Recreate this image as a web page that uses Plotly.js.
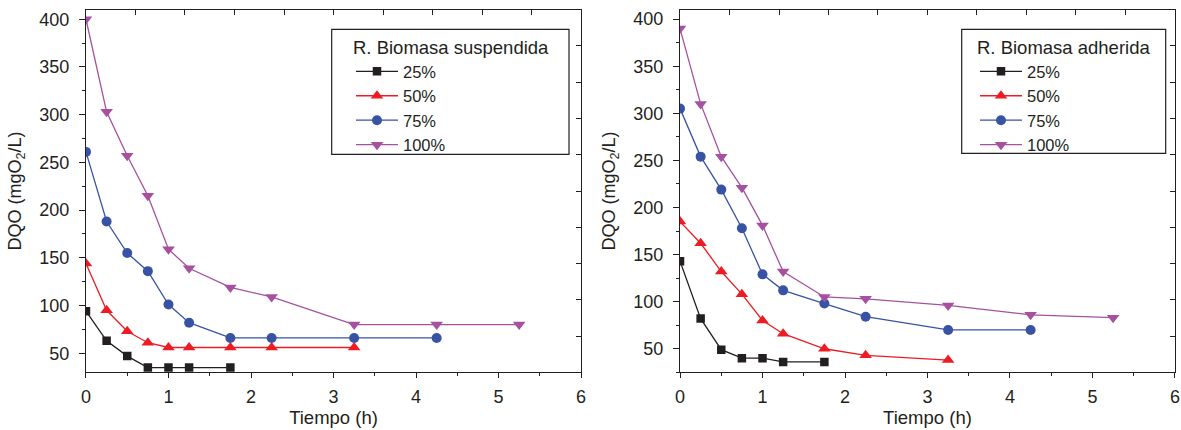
<!DOCTYPE html>
<html>
<head>
<meta charset="utf-8">
<script src="https://cdn.plot.ly/plotly-3.0.1.min.js"></script>
<style>
  html, body { margin: 0; padding: 0; background: #ffffff; }
  #chart { width: 1181px; height: 430px; }
</style>
</head>
<body>
<div id="chart"></div>
<script>
// ---- data ----
const tiempo = [0, 0.25, 0.5, 0.75, 1, 1.25, 1.75, 2.25, 3.25, 4.25, 5.25];
const seriesNames = ['25%', '50%', '75%', '100%'];

// R. Biomasa suspendida (left panel)
const susp25  = [94, 63, 47, 35, 35, 35, 35];
const susp50  = [144, 95, 73, 61, 56, 56, 56, 56, 56];
const susp75  = [261, 188, 155, 136, 101, 82, 66, 66, 66, 66];
const susp100 = [400, 303, 257, 215, 159, 139, 119, 109, 80, 80, 80];

// R. Biomasa adherida (right panel)
const adh25  = [143, 82, 49, 40, 40, 36, 36];
const adh50  = [185, 162, 132, 108, 80, 66, 50, 43, 38];
const adh75  = [305, 254, 219, 178, 129, 112, 98, 84, 70, 70];
const adh100 = [390, 310, 254, 221, 181, 132, 105, 103, 96, 86, 83];

const legendTitles = ['R. Biomasa suspendida', 'R. Biomasa adherida'];
const xTitle = 'Tiempo (h)';
const yTitle = 'DQO (mgO<sub>2</sub>/L)';

// ---- styles ----
const colors  = ['#231f20', '#ed1c24', '#3953a4', '#a6509f'];
const symbols = ['square', 'triangle-up', 'circle', 'triangle-down'];
const sizes   = [8.5, 11, 10, 11];
const FONT = 'Liberation Sans, Arial, Helvetica, sans-serif';
const INK = '#231f20';
const W = 1181, H = 430;

function mk(vals, i, xa, ya, leg) {
  return {
    type: 'scatter', mode: 'lines+markers',
    x: tiempo.slice(0, vals.length), y: vals,
    name: seriesNames[i], xaxis: xa, yaxis: ya, legend: leg,
    line: { color: colors[i], width: 1.3 },
    marker: { color: colors[i], symbol: symbols[i], size: sizes[i], line: { width: 0 } }
  };
}

const traces = [
  mk(susp25, 0, 'x', 'y', 'legend'),
  mk(susp50, 1, 'x', 'y', 'legend'),
  mk(susp75, 2, 'x', 'y', 'legend'),
  mk(susp100, 3, 'x', 'y', 'legend'),
  mk(adh25, 0, 'x2', 'y2', 'legend2'),
  mk(adh50, 1, 'x2', 'y2', 'legend2'),
  mk(adh75, 2, 'x2', 'y2', 'legend2'),
  mk(adh100, 3, 'x2', 'y2', 'legend2'),
  { type: 'scatter', x: [], y: [], xaxis: 'x3', yaxis: 'y3', showlegend: false, hoverinfo: 'skip' },
  { type: 'scatter', x: [], y: [], xaxis: 'x4', yaxis: 'y4', showlegend: false, hoverinfo: 'skip' }
];

const yDom = [0.1342, 0.9774];

function mainX(domain, anchor) {
  return {
    domain: domain, anchor: anchor, range: [0, 6], dtick: 1, tick0: 0,
    ticks: 'outside', ticklen: 5, tickwidth: 1, tickcolor: INK,
    minor: { dtick: 0.5, ticks: 'outside', ticklen: 3, tickcolor: INK, showgrid: false },
    showline: true, linecolor: INK, linewidth: 1.2, showgrid: false, zeroline: false,
    tickfont: { family: FONT, size: 18, color: INK }, ticklabelstandoff: 3,
    title: { text: xTitle, font: { family: FONT, size: 18.5, color: INK }, standoff: 4 }
  };
}
function mainY(range, anchor) {
  return {
    domain: yDom, anchor: anchor, range: range, dtick: 50, tick0: 0,
    ticks: 'outside', ticklen: 6, tickwidth: 1, tickcolor: INK,
    minor: { dtick: 25, ticks: 'outside', ticklen: 3, tickcolor: INK, showgrid: false },
    showline: true, linecolor: INK, linewidth: 1.2, showgrid: false, zeroline: false,
    tickfont: { family: FONT, size: 18, color: INK }, ticklabelstandoff: 6,
    title: { text: yTitle, font: { family: FONT, size: 18, color: INK }, standoff: 12 }
  };
}
function mirrorAxis(over, anchor, side) {
  return {
    overlaying: over, anchor: anchor, side: side, range: [0, 1], dtick: 0.1, tick0: 0,
    ticks: 'inside', ticklen: 5, tickwidth: 1, tickcolor: INK,
    showticklabels: false, showline: true, linecolor: INK, linewidth: 1.2,
    showgrid: false, zeroline: false
  };
}
function legendCfg(xpx, title) {
  return {
    x: xpx / W, y: 1 - 30 / H, xanchor: 'left', yanchor: 'top',
    bgcolor: 'rgba(0,0,0,0)', borderwidth: 0,
    font: { family: FONT, size: 16.5, color: INK },
    title: { text: title, font: { family: FONT, size: 18.5, color: INK } },
    tracegroupgap: 0, itemwidth: 42
  };
}
function legendBox(x0, x1, y0, y1) {
  return {
    type: 'rect', xref: 'paper', yref: 'paper', layer: 'above',
    x0: x0 / W, x1: x1 / W, y0: 1 - y1 / H, y1: 1 - y0 / H,
    line: { color: INK, width: 1.2 }, fillcolor: 'rgba(0,0,0,0)'
  };
}

const layout = {
  width: W, height: H,
  margin: { l: 0, r: 0, t: 0, b: 0 },
  paper_bgcolor: '#ffffff', plot_bgcolor: '#ffffff',
  showlegend: true,
  font: { family: FONT, color: INK },
  xaxis: mainX([0.0728, 0.4920], 'y'),
  yaxis: mainY([30, 410], 'x'),
  xaxis2: mainX([0.5758, 0.9949], 'y2'),
  yaxis2: mainY([25, 410], 'x2'),
  xaxis3: mirrorAxis('x', 'y', 'top'),
  yaxis3: mirrorAxis('y', 'x', 'right'),
  xaxis4: mirrorAxis('x2', 'y2', 'top'),
  yaxis4: mirrorAxis('y2', 'x2', 'right'),
  legend: legendCfg(351, legendTitles[0]),
  legend2: legendCfg(975, legendTitles[1]),
  shapes: [
    legendBox(331.7, 569, 29.3, 154.3),
    legendBox(961.7, 1165.7, 29.3, 153.3)
  ]
};

Plotly.newPlot('chart', traces, layout, { staticPlot: true, displayModeBar: false });
</script>
</body>
</html>
